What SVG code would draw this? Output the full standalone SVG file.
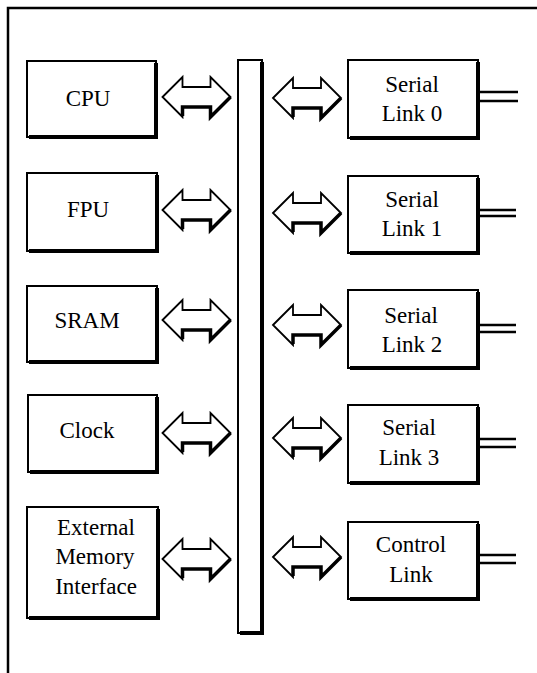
<svg xmlns="http://www.w3.org/2000/svg" width="537" height="673" viewBox="0 0 537 673">
<style>
.box{fill:#fff;stroke:#000;stroke-width:2}
.sh{fill:none;stroke:#000;stroke-width:4}
.ln{stroke:#000;stroke-width:2.5;fill:none}
.ar{fill:#fff;stroke:#000;stroke-width:1.8}
.ars{fill:none;stroke:#000;stroke-width:3.5}
</style>
<rect width="537" height="673" fill="#fff"/>
<g id="frame">
<path d="M8,673 V8 H537" fill="none" stroke="#000" stroke-width="2.5"/>
</g>
<g id="bus">
<rect class="box" x="238" y="60" width="24" height="573"/>
<path class="sh" d="M262,62 V633 H240"/>
</g>
<g id="cpu">
<rect class="box" x="27" y="61" width="129" height="76"/>
<path class="sh" d="M156,63 V137 H29"/>
<text style="font-family:'Liberation Serif',serif;font-size:23px" text-anchor="middle" x="88" y="106">CPU</text>
</g>
<g id="fpu">
<rect class="box" x="27" y="173" width="130" height="78"/>
<path class="sh" d="M157,175 V251 H29"/>
<text style="font-family:'Liberation Serif',serif;font-size:23px" text-anchor="middle" x="88" y="217">FPU</text>
</g>
<g id="sram">
<rect class="box" x="27" y="286" width="130" height="76"/>
<path class="sh" d="M157,288 V362 H29"/>
<text style="font-family:'Liberation Serif',serif;font-size:23px" text-anchor="middle" x="87" y="328">SRAM</text>
</g>
<g id="clock">
<rect class="box" x="28" y="395" width="129" height="77"/>
<path class="sh" d="M157,397 V472 H30"/>
<text style="font-family:'Liberation Serif',serif;font-size:23px" text-anchor="middle" x="87" y="438">Clock</text>
</g>
<g id="emi">
<rect class="box" x="27" y="507" width="131" height="111"/>
<path class="sh" d="M158,509 V618 H29"/>
<text style="font-family:'Liberation Serif',serif;font-size:23px" text-anchor="middle" x="96" y="535">External</text>
<text style="font-family:'Liberation Serif',serif;font-size:23px" text-anchor="middle" x="95" y="564">Memory</text>
<text style="font-family:'Liberation Serif',serif;font-size:23px" text-anchor="middle" x="96" y="594">Interface</text>
</g>
<g id="sl0">
<rect class="box" x="348" y="60" width="130" height="78"/>
<path class="sh" d="M478,62 V138 H350"/>
<text style="font-family:'Liberation Serif',serif;font-size:23px" text-anchor="middle" x="412" y="92">Serial</text>
<text style="font-family:'Liberation Serif',serif;font-size:23px" text-anchor="middle" x="412" y="121">Link 0</text>
</g>
<g id="sl1">
<rect class="box" x="348" y="176" width="130" height="77"/>
<path class="sh" d="M478,178 V253 H350"/>
<text style="font-family:'Liberation Serif',serif;font-size:23px" text-anchor="middle" x="412" y="207">Serial</text>
<text style="font-family:'Liberation Serif',serif;font-size:23px" text-anchor="middle" x="412" y="236">Link 1</text>
</g>
<g id="sl2">
<rect class="box" x="348" y="290" width="130" height="78"/>
<path class="sh" d="M478,292 V368 H350"/>
<text style="font-family:'Liberation Serif',serif;font-size:23px" text-anchor="middle" x="411" y="323">Serial</text>
<text style="font-family:'Liberation Serif',serif;font-size:23px" text-anchor="middle" x="412" y="352">Link 2</text>
</g>
<g id="sl3">
<rect class="box" x="348" y="405" width="130" height="78"/>
<path class="sh" d="M478,407 V483 H350"/>
<text style="font-family:'Liberation Serif',serif;font-size:23px" text-anchor="middle" x="409" y="435">Serial</text>
<text style="font-family:'Liberation Serif',serif;font-size:23px" text-anchor="middle" x="409" y="465">Link 3</text>
</g>
<g id="ctl">
<rect class="box" x="348" y="522" width="130" height="77"/>
<path class="sh" d="M478,524 V599 H350"/>
<text style="font-family:'Liberation Serif',serif;font-size:23px" text-anchor="middle" x="411" y="552">Control</text>
<text style="font-family:'Liberation Serif',serif;font-size:23px" text-anchor="middle" x="411" y="582">Link</text>
</g>
<g id="connectors">
<g transform="translate(196.5,97)"><polygon class="ar" points="-34,0 -14,-20 -14,-10 14,-10 14,-20 34,0 14,20 14,10 -14,10 -14,20"/><polyline class="ars" points="-14,19 -14,10 14,10 14,20 34,0"/></g>
<g transform="translate(196.5,210)"><polygon class="ar" points="-34,0 -14,-20 -14,-10 14,-10 14,-20 34,0 14,20 14,10 -14,10 -14,20"/><polyline class="ars" points="-14,19 -14,10 14,10 14,20 34,0"/></g>
<g transform="translate(196.5,320)"><polygon class="ar" points="-34,0 -14,-20 -14,-10 14,-10 14,-20 34,0 14,20 14,10 -14,10 -14,20"/><polyline class="ars" points="-14,19 -14,10 14,10 14,20 34,0"/></g>
<g transform="translate(196.5,433)"><polygon class="ar" points="-34,0 -14,-20 -14,-10 14,-10 14,-20 34,0 14,20 14,10 -14,10 -14,20"/><polyline class="ars" points="-14,19 -14,10 14,10 14,20 34,0"/></g>
<g transform="translate(196.5,559)"><polygon class="ar" points="-34,0 -14,-20 -14,-10 14,-10 14,-20 34,0 14,20 14,10 -14,10 -14,20"/><polyline class="ars" points="-14,19 -14,10 14,10 14,20 34,0"/></g>
<g transform="translate(307,98)"><polygon class="ar" points="-34,0 -14,-20 -14,-10 14,-10 14,-20 34,0 14,20 14,10 -14,10 -14,20"/><polyline class="ars" points="-14,19 -14,10 14,10 14,20 34,0"/></g>
<g transform="translate(307,213)"><polygon class="ar" points="-34,0 -14,-20 -14,-10 14,-10 14,-20 34,0 14,20 14,10 -14,10 -14,20"/><polyline class="ars" points="-14,19 -14,10 14,10 14,20 34,0"/></g>
<g transform="translate(307,325)"><polygon class="ar" points="-34,0 -14,-20 -14,-10 14,-10 14,-20 34,0 14,20 14,10 -14,10 -14,20"/><polyline class="ars" points="-14,19 -14,10 14,10 14,20 34,0"/></g>
<g transform="translate(307,438)"><polygon class="ar" points="-34,0 -14,-20 -14,-10 14,-10 14,-20 34,0 14,20 14,10 -14,10 -14,20"/><polyline class="ars" points="-14,19 -14,10 14,10 14,20 34,0"/></g>
<g transform="translate(307,557)"><polygon class="ar" points="-34,0 -14,-20 -14,-10 14,-10 14,-20 34,0 14,20 14,10 -14,10 -14,20"/><polyline class="ars" points="-14,19 -14,10 14,10 14,20 34,0"/></g>
<path class="ln" d="M478,92 H518 M478,101 H518"/>
<path class="ln" d="M478,210 H516 M478,216 H516"/>
<path class="ln" d="M478,325 H516 M478,332 H516"/>
<path class="ln" d="M478,439 H516 M478,447 H516"/>
<path class="ln" d="M478,555 H516 M478,563 H516"/>
</g>
</svg>
